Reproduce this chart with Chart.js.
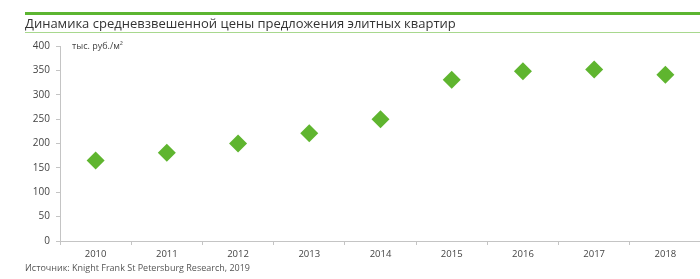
<!DOCTYPE html>
<html>
<head>
<meta charset="utf-8">
<script src="https://cdn.jsdelivr.net/npm/chart.js@4"></script>
<style>
  html, body { margin: 0; padding: 0; background: #fff; overflow: hidden; }
  #wrap { position: relative; width: 700px; height: 279px; font-family: "Open Sans", sans-serif; }
  #topline { position: absolute; left: 25px; top: 12px; width: 675px; height: 3px; background: #5cb531; }
  #title { position: absolute; left: 25px; top: 14px; font-size: 13px; color: #333; white-space: nowrap; }
  #subline { position: absolute; left: 25px; top: 32px; width: 675px; height: 1px; background: #a8d88e; }
  #unit { position: absolute; left: 72px; top: 39px; font-size: 9px; color: #444; }
  #source { position: absolute; left: 25px; top: 261px; font-size: 9px; color: #555; white-space: nowrap; }
  #chartbox { position: absolute; left: 0; top: 0; width: 710px; height: 279px; }
</style>
</head>
<body>
<div id="wrap">
  <div id="chartbox"><canvas id="c"></canvas></div>
  <div id="topline"></div>
  <div id="title">Динамика средневзвешенной цены предложения элитных квартир</div>
  <div id="subline"></div>
  <div id="unit">тыс. руб./м²</div>
  <div id="source">Источник: Knight Frank St Petersburg Research, 2019</div>
</div>
<script>
var years = ["2010", "2011", "2012", "2013", "2014", "2015", "2016", "2017", "2018"];
var prices = [165, 181, 200, 221, 250, 331, 348, 352, 341];
var yTicks = [0, 50, 100, 150, 200, 250, 300, 350, 400];

var green = "#5fb52f";
var axisGray = "#c4c4c4";

var ctx = document.getElementById("c").getContext("2d");
var chart = new Chart(ctx, {
    type: "line",
    data: {
        labels: years,
        datasets: [{
            label: "Цена",
            data: prices,
            showLine: false,
            pointStyle: "rectRot",
            pointRadius: 9,
            pointHoverRadius: 9,
            backgroundColor: green,
            borderColor: green,
            pointBorderWidth: 0
        }]
    },
    options: {
        responsive: true,
        maintainAspectRatio: false,
        animation: false,
        layout: { padding: { top: 46, right: 0, left: 0, bottom: 0 } },
        plugins: {
            legend: { display: false },
            tooltip: { enabled: false }
        },
        scales: {
            x: {
                offset: true,
                grid: {
                    display: true,
                    drawOnChartArea: false,
                    offset: true,
                    color: axisGray,
                    tickLength: 4
                },
                border: { color: axisGray, width: 1 },
                ticks: {
                    color: "#444",
                    font: { family: "Open Sans", size: 9.5 },
                    padding: 4,
                    maxRotation: 0
                },
                afterFit: function(scale){ scale.height = 38; }
            },
            y: {
                min: 0,
                max: 400,
                afterBuildTicks: function(scale){
                    scale.ticks = yTicks.map(function(v){ return { value: v }; });
                },
                grid: {
                    display: true,
                    drawOnChartArea: false,
                    color: axisGray,
                    tickLength: 4
                },
                border: { color: axisGray, width: 1 },
                ticks: {
                    color: "#444",
                    font: { family: "Open Sans", size: 10 },
                    padding: 6
                },
                afterFit: function(scale){ scale.width = 60; }
            }
        }
    }
});
</script>
</body>
</html>
